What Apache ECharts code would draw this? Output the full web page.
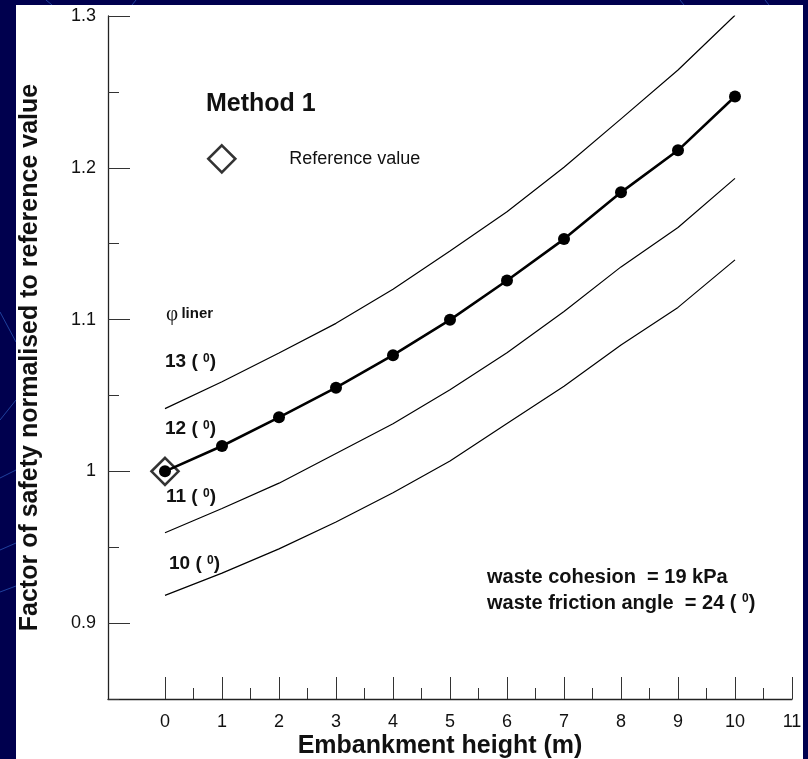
<!DOCTYPE html>
<html>
<head>
<meta charset="utf-8">
<script src="https://cdn.jsdelivr.net/npm/echarts@6/dist/echarts.min.js"></script>
<style>
html,body{margin:0;padding:0;background:#00004e;}
#c{width:808px;height:759px;}
</style>
</head>
<body>
<div id="c"></div>
<script>
// ---- data ----
const heights = [0, 1, 2, 3, 4, 5, 6, 7, 8, 9, 10];
const phi13 = [1.0413, 1.0590, 1.0780, 1.0975, 1.1200, 1.1452, 1.1710, 1.2003, 1.2322, 1.2644, 1.3005];
const phi12 = [1.0000, 1.0167, 1.0356, 1.0551, 1.0765, 1.0998, 1.1257, 1.1530, 1.1838, 1.2115, 1.2470];
const phi11 = [0.9595, 0.9755, 0.9922, 1.0118, 1.0313, 1.0538, 1.0781, 1.1053, 1.1347, 1.1606, 1.1930];
const phi10 = [0.9183, 0.9329, 0.9489, 0.9666, 0.9859, 1.0068, 1.0315, 1.0560, 1.0832, 1.1080, 1.1393];
const referencePoint = [[0, 1.0]];
const xTickValues = [0, 1, 2, 3, 4, 5, 6, 7, 8, 9, 10, 11];
const yTickLabels = ['0.9', '1', '1.1', '1.2', '1.3'];

const FONT = '"Liberation Sans", Arial, sans-serif';
const INK = '#111';

function pairs(arr) { return heights.map((h, i) => [h, arr[i]]); }

const chart = echarts.init(document.getElementById('c'), null, {renderer: 'canvas'});

const thinLine = {color: '#000', width: 1.2};
const supStyle = {fontFamily: FONT, fontSize: 12, fontWeight: 'bold', verticalAlign: 'top', fill: INK};
const decoStroke = {stroke: '#2d5cc0', lineWidth: 1, opacity: 0.7};

const option = {
  animation: false,
  backgroundColor: '#00004e',
  grid: [
    {left: 108, top: 16, width: 684, height: 683, outerBoundsMode: 'none', containLabel: false},
    {left: 165, top: 16, width: 627, height: 683, outerBoundsMode: 'none', containLabel: false},
    {left: 108, top: 16, width: 684, height: 683 + 683 / 9, outerBoundsMode: 'none', containLabel: false}
  ],
  xAxis: [
    {
      gridIndex: 0, type: 'value', min: -1, max: 11, interval: 1,
      axisLine: {show: true, onZero: false, lineStyle: {color: '#222', width: 1.3}},
      axisTick: {show: false}, axisLabel: {show: false}, splitLine: {show: false},
      name: 'Embankment height (m)', nameLocation: 'middle', nameGap: 35,
      nameTextStyle: {fontFamily: FONT, fontSize: 25, fontWeight: 'bold', color: INK, padding: [0, 20, 0, 0]}
    },
    {
      gridIndex: 1, type: 'value', min: 0, max: 11, interval: 1,
      axisLine: {show: false, onZero: false},
      axisTick: {show: true, inside: true, length: 22, lineStyle: {color: '#333', width: 1}},
      minorTick: {show: true, splitNumber: 2, length: 11, lineStyle: {color: '#333', width: 1}},
      axisLabel: {
        show: true, margin: 14, fontFamily: FONT, fontSize: 18, color: INK,
        formatter: v => (xTickValues.indexOf(Math.round(v)) >= 0 ? String(Math.round(v)) : '')
      },
      splitLine: {show: false}
    },
    {gridIndex: 2, type: 'value', min: -1, max: 11, show: false}
  ],
  yAxis: [
    {
      gridIndex: 0, type: 'value', min: 0.85, max: 1.3, interval: 0.05,
      axisLine: {show: true, onZero: false, lineStyle: {color: '#222', width: 1.3}},
      axisTick: {show: false}, axisLabel: {show: false}, splitLine: {show: false},
      name: 'Factor of safety normalised to reference value', nameLocation: 'middle', nameGap: 65,
      nameTextStyle: {fontFamily: FONT, fontSize: 25, fontWeight: 'bold', color: INK}
    },
    {gridIndex: 1, type: 'value', min: 0.85, max: 1.3, show: false},
    {
      gridIndex: 2, type: 'value', min: 0.8, max: 1.3, interval: 0.1,
      axisLine: {show: false, onZero: false},
      axisTick: {show: true, inside: true, length: 22, lineStyle: {color: '#333', width: 1}},
      minorTick: {show: true, splitNumber: 2, length: 11, lineStyle: {color: '#333', width: 1}},
      axisLabel: {
        show: true, margin: 12, fontFamily: FONT, fontSize: 18, color: INK,
        formatter: v => {
          const s = String(+v.toFixed(2));
          return yTickLabels.indexOf(s) >= 0 ? s : '';
        }
      },
      splitLine: {show: false}
    }
  ],
  legend: {
    data: [{name: 'Reference value', icon: 'diamond'}],
    left: 202, top: 139, itemWidth: 27, itemHeight: 27,
    selectedMode: false,
    itemStyle: {color: 'rgba(0,0,0,0)', borderColor: '#000', borderWidth: 2.6},
    textStyle: {fontFamily: FONT, fontSize: 18, color: INK, padding: [0, 0, 0, 49]}
  },
  series: [
    {name: '13', type: 'line', xAxisIndex: 0, yAxisIndex: 0, data: pairs(phi13), symbol: 'none', lineStyle: thinLine, silent: true, z: 3},
    {name: '11', type: 'line', xAxisIndex: 0, yAxisIndex: 0, data: pairs(phi11), symbol: 'none', lineStyle: thinLine, silent: true, z: 3},
    {name: '10', type: 'line', xAxisIndex: 0, yAxisIndex: 0, data: pairs(phi10), symbol: 'none', lineStyle: thinLine, silent: true, z: 3},
    {name: '12', type: 'line', xAxisIndex: 0, yAxisIndex: 0, data: pairs(phi12), symbol: 'circle', symbolSize: 12,
      itemStyle: {color: '#000'}, lineStyle: {color: '#000', width: 2.6}, silent: true, z: 4},
    {name: 'Reference value', type: 'scatter', xAxisIndex: 0, yAxisIndex: 0, data: referencePoint,
      symbol: 'diamond', symbolSize: 27,
      itemStyle: {color: 'rgba(0,0,0,0)', borderColor: '#000', borderWidth: 2.6}, silent: true, z: 5}
  ],
  graphic: [
    // faint decorative lines of the slide background
    {type: 'line', z: -200, shape: {x1: 0, y1: 312, x2: 16, y2: 342}, style: decoStroke},
    {type: 'line', z: -200, shape: {x1: 0, y1: 420, x2: 16, y2: 400}, style: decoStroke},
    {type: 'line', z: -200, shape: {x1: 0, y1: 478, x2: 16, y2: 470}, style: decoStroke},
    {type: 'line', z: -200, shape: {x1: 0, y1: 550, x2: 16, y2: 543}, style: decoStroke},
    {type: 'line', z: -200, shape: {x1: 0, y1: 592, x2: 16, y2: 586}, style: decoStroke},
    {type: 'line', z: -200, shape: {x1: 46, y1: 0, x2: 52, y2: 5}, style: decoStroke},
    {type: 'line', z: -200, shape: {x1: 136, y1: 0, x2: 132, y2: 5}, style: decoStroke},
    {type: 'line', z: -200, shape: {x1: 680, y1: 0, x2: 684, y2: 5}, style: decoStroke},
    {type: 'line', z: -200, shape: {x1: 765, y1: 0, x2: 769, y2: 5}, style: decoStroke},
    {type: 'rect', z: -100, shape: {x: 16, y: 5, width: 787, height: 760}, style: {fill: '#ffffff'}},
    {type: 'text', x: 206, y: 104, style: {text: 'Method 1', font: 'bold 25px ' + FONT, fill: INK, textVerticalAlign: 'middle'}},
    {type: 'text', x: 166, y: 314, style: {
      text: '{p|φ} {l|liner}', textVerticalAlign: 'middle', fill: INK,
      rich: {p: {fontFamily: '"Liberation Serif", "Times New Roman", serif', fontSize: 21, fill: INK},
             l: {fontFamily: FONT, fontSize: 15, fontWeight: 'bold', fill: INK}}
    }},
    {type: 'text', x: 165, y: 362, style: {text: '13 ( {s|0})', textVerticalAlign: 'middle', font: 'bold 19px ' + FONT, fill: INK, rich: {s: supStyle}}},
    {type: 'text', x: 165, y: 429, style: {text: '12 ( {s|0})', textVerticalAlign: 'middle', font: 'bold 19px ' + FONT, fill: INK, rich: {s: supStyle}}},
    {type: 'text', x: 166, y: 497, style: {text: '11 ( {s|0})', textVerticalAlign: 'middle', font: 'bold 19px ' + FONT, fill: INK, rich: {s: supStyle}}},
    {type: 'text', x: 169, y: 564, style: {text: '10 ( {s|0})', textVerticalAlign: 'middle', font: 'bold 19px ' + FONT, fill: INK, rich: {s: supStyle}}},
    {type: 'text', x: 487, y: 577, style: {text: 'waste cohesion  = 19 kPa', textVerticalAlign: 'middle', font: 'bold 20px ' + FONT, fill: INK}},
    {type: 'text', x: 487, y: 603, style: {text: 'waste friction angle  = 24 ( {s|0})', textVerticalAlign: 'middle', font: 'bold 20px ' + FONT, fill: INK, rich: {s: supStyle}}}
  ]
};

chart.setOption(option);
</script>
</body>
</html>
